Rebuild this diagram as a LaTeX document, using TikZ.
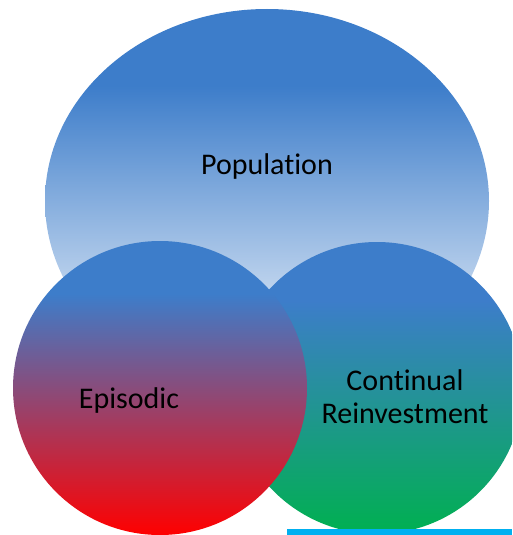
\documentclass[tikz,border=0pt]{standalone}
\usepackage{fontspec}
\setmainfont{Carlito}[Ligatures=NoCommon]
\definecolor{v1}{RGB}{61,125,202}
\definecolor{v2}{RGB}{255,0,0}
\definecolor{v3}{RGB}{0,176,80}
\definecolor{v4}{RGB}{0,176,240}
\pgfdeclareverticalshading{popshade}{100bp}{color(0bp)=(white); color(25bp)=(white); color(65bp)=(v1); color(100bp)=(v1)}
\pgfdeclareverticalshading{epishade}{100bp}{color(0bp)=(v2); color(25bp)=(v2); color(66bp)=(v1); color(100bp)=(v1)}
\pgfdeclareverticalshading{reinshade}{100bp}{color(0bp)=(v3); color(25bp)=(v3); color(65bp)=(v1); color(100bp)=(v1)}

\begin{document}
\begin{tikzpicture}[x=1pt,y=-1pt,
 lbl/.style={font=\fontsize{30}{33}\selectfont,inner sep=0pt}]
 \useasboundingbox (0,0) rectangle (512,535);
 \clip (0,0) rectangle (512,535);
 \shade[shading=popshade] (267,201) ellipse [x radius=222,y radius=192];
 \foreach \shd/\xp/\yp/\rad in {
   reinshade/377/388/146, epishade/160/388/147
 } {
   \shade[shading=\shd] (\xp,\yp) circle (\rad);
 }
 \fill[v4] (287,529) rectangle (512,535);
 \node[lbl,anchor=base] (population) at (267,174) {Population};
 \node[lbl,anchor=base] (episodic) at (129,408) {Episodic};
 \node[lbl,align=center] (reinvest) at (405,397) {Continual\\Reinvestment};
\end{tikzpicture}
\end{document}
